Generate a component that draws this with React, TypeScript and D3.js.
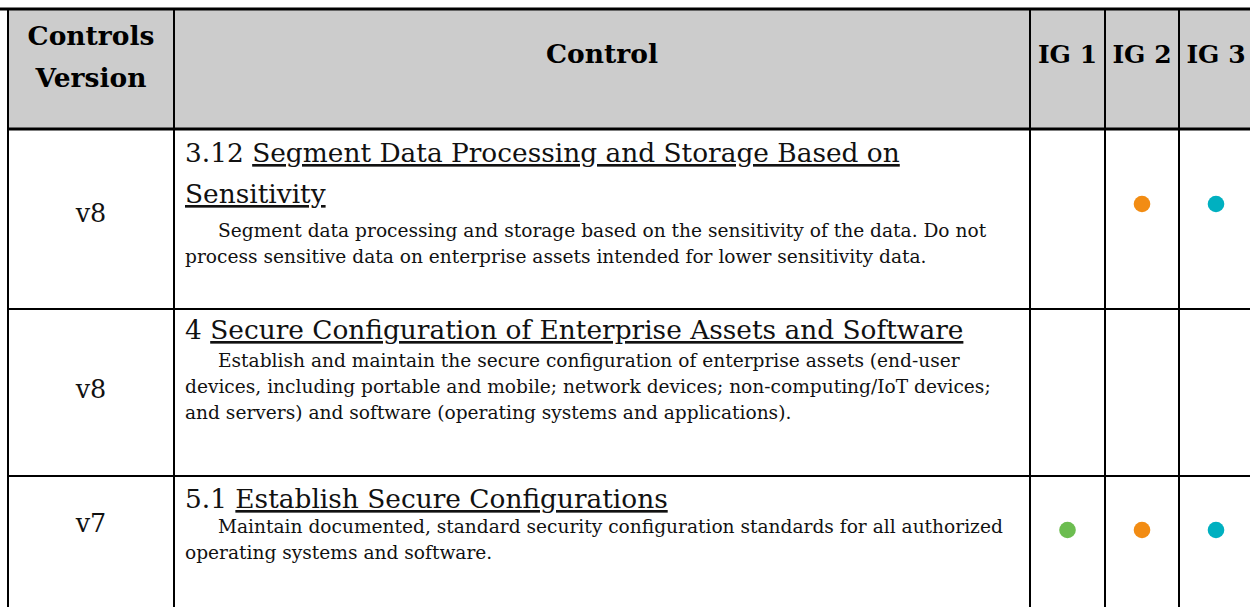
import React from 'react';
import * as d3 from 'd3';

// Table content
const headerLabels = ['Controls\nVersion', 'Control', 'IG 1', 'IG 2', 'IG 3'];
const versions = ['v8', 'v8', 'v7'];
const controlIds = ['3.12', '4', '5.1'];
const controlTitles = [
  ['Segment Data Processing and Storage Based on', 'Sensitivity'],
  ['Secure Configuration of Enterprise Assets and Software'],
  ['Establish Secure Configurations'],
];
const descriptions = [
  [
    'Segment data processing and storage based on the sensitivity of the data. Do not',
    'process sensitive data on enterprise assets intended for lower sensitivity data.',
  ],
  [
    'Establish and maintain the secure configuration of enterprise assets (end-user',
    'devices, including portable and mobile; network devices; non-computing/IoT devices;',
    'and servers) and software (operating systems and applications).',
  ],
  [
    'Maintain documented, standard security configuration standards for all authorized',
    'operating systems and software.',
  ],
];
const ig1 = [false, false, true];
const ig2 = [true, false, true];
const ig3 = [true, false, true];

// Layout
const W = 1250;
const H = 607;
const colWidths = [166, 856, 75, 74, 74];
const rowHeights = [120, 180, 167, 175];
const x0 = 8;
const y0 = 9;
// per row vertical offsets (from row top): title baseline, desc baseline, dot centre, version centre
const rowLayout = [
  { title: 33, desc: 108, dot: 75, ver: 84 },
  { title: 30, desc: 58, dot: 60, ver: 80 },
  { title: 32, desc: 57, dot: 54, ver: 47 },
];
const titleStep = 41;
const descStep = 25.8;
const igColors = ['#6cbd50', '#f28c13', '#00b0c0'];
const FONT = "'DejaVu Serif', 'Liberation Serif', serif";

const App: React.FC = () => {
  const colEdges = [x0, ...Array.from(d3.cumsum(colWidths), (d) => x0 + d)];
  const rowEdges = [y0, ...Array.from(d3.cumsum(rowHeights), (d) => y0 + d)];
  const xs = d3.scaleOrdinal<number, number>().domain(d3.range(colEdges.length)).range(colEdges);
  const ys = d3.scaleOrdinal<number, number>().domain(d3.range(rowEdges.length)).range(rowEdges);
  const colMid = (i: number) => (xs(i) + xs(i + 1)) / 2;
  const textLeft = xs(1) + 11;
  const indent = 33;
  const igFlags = [ig1, ig2, ig3];

  return (
    <svg width={W} height={H} style={{ position: 'absolute', left: 0, top: 0, background: '#fff' }}>
      {/* header background */}
      <rect x={xs(0)} y={ys(0)} width={xs(5) - xs(0)} height={ys(1) - ys(0)} fill="#cccccc" />

      {/* header labels */}
      <g fontFamily={FONT} fontWeight="bold" fill="#000" textAnchor="middle">
        {headerLabels.map((label, i) => {
          const lines = label.split('\n');
          const fs = i < 2 ? 26.5 : 25;
          return (
            <text key={i} x={colMid(i)} fontSize={fs}>
              {lines.map((l, j) => (
                <tspan key={j} x={colMid(i)} y={lines.length > 1 ? 45 + j * 42 : 63}>
                  {l}
                </tspan>
              ))}
            </text>
          );
        })}
      </g>

      {/* body rows */}
      {versions.map((v, r) => {
        const top = ys(r + 1);
        const lay = rowLayout[r];
        const titleLines = controlTitles[r];
        return (
          <g key={r} fontFamily={FONT} fill="#111">
            <text x={colMid(0)} y={top + lay.ver} fontSize={25.5} textAnchor="middle" dominantBaseline="central">
              {v}
            </text>
            {titleLines.map((t, j) => (
              <text key={j} x={textLeft} y={top + lay.title + j * titleStep} fontSize={26.4}>
                {j === 0 && <tspan>{controlIds[r] + ' '}</tspan>}
                <tspan textDecoration="underline">{t}</tspan>
              </text>
            ))}
            {descriptions[r].map((d, j) => (
              <text
                key={j}
                x={textLeft + (j === 0 ? indent : 0)}
                y={top + lay.desc + j * descStep}
                fontSize={18.6}
              >
                {d}
              </text>
            ))}
            {igFlags.map((flags, k) =>
              flags[r] ? (
                <circle key={k} cx={colMid(k + 2)} cy={top + lay.dot} r={8.3} fill={igColors[k]} />
              ) : null
            )}
          </g>
        );
      })}

      {/* grid lines */}
      <g stroke="#000">
        <line x1={0} x2={W} y1={ys(0)} y2={ys(0)} strokeWidth={3} />
        {d3.range(1, 4).map((r) => (
          <line key={r} x1={xs(0)} x2={W} y1={ys(r)} y2={ys(r)} strokeWidth={r === 1 ? 3 : 2} />
        ))}
        {d3.range(0, 5).map((c) => (
          <line key={c} x1={xs(c)} x2={xs(c)} y1={ys(0)} y2={H} strokeWidth={2} />
        ))}
      </g>
    </svg>
  );
};

export default App;
